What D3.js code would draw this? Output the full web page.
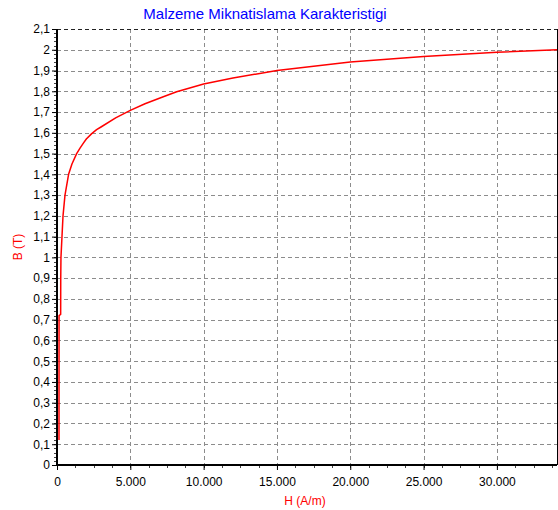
<!DOCTYPE html>
<html>
<head>
<meta charset="utf-8">
<script src="https://cdn.jsdelivr.net/npm/d3@7"></script>
<style>
  html, body { margin: 0; padding: 0; background: #fff; }
  svg { display: block; font-family: "Liberation Sans", Arial, sans-serif; }
</style>
</head>
<body>
<script>
// ---- data ----
const titleText = "Malzeme Miknatislama Karakteristigi";
const xLabel = "H (A/m)";
const yLabel = "B (T)";
const hValues = [136, 140, 250, 255, 270, 340, 410, 545, 790, 1020, 1340, 1570, 1800, 2000, 2350, 2700, 3000, 4000, 5000, 6000, 7250, 8160, 10000, 12000, 15000, 20000, 25000, 30000, 34100];
const bValues = [0.12, 0.72, 0.725, 0.9, 1.0, 1.1, 1.2, 1.3, 1.4, 1.45, 1.5, 1.526, 1.55, 1.57, 1.595, 1.615, 1.628, 1.672, 1.708, 1.74, 1.774, 1.798, 1.835, 1.864, 1.9, 1.941, 1.968, 1.988, 2.0];
const xTicks = [0, 5000, 10000, 15000, 20000, 25000, 30000];
const yTicks = [0, 0.1, 0.2, 0.3, 0.4, 0.5, 0.6, 0.7, 0.8, 0.9, 1, 1.1, 1.2, 1.3, 1.4, 1.5, 1.6, 1.7, 1.8, 1.9, 2, 2.1];
const xDomain = [0, 34100];
const yDomain = [0, 2.1];

const W = 558, H = 510;
const m = { left: 57, right: 1, top: 29, bottom: 45 };

const tr = d3.formatLocale({ decimal: ",", thousands: ".", grouping: [3], currency: ["", " TL"] });
const fx = tr.format(",");
const fy = tr.format(".1~f");

const svg = d3.select("body").append("svg").attr("width", W).attr("height", H);

const x = d3.scaleLinear().domain(xDomain).range([m.left, W - m.right]);
const y = d3.scaleLinear().domain(yDomain).range([H - m.bottom, m.top]);

// grid
const grid = svg.append("g").attr("stroke", "#8c8c8c").attr("stroke-dasharray", "4,3").attr("stroke-width", 1).attr("shape-rendering", "crispEdges");
grid.selectAll(".gy").data(yTicks.filter(d => d > 0 && d < 2.1)).join("line")
  .attr("x1", m.left).attr("x2", W - m.right)
  .attr("y1", d => Math.round(y(d)) + 0.5).attr("y2", d => Math.round(y(d)) + 0.5);
grid.selectAll(".gx").data(xTicks.filter(d => d > 0)).join("line")
  .attr("y1", m.top).attr("y2", H - m.bottom)
  .attr("x1", d => Math.round(x(d)) + 0.5).attr("x2", d => Math.round(x(d)) + 0.5);

// top dashed border
svg.append("line").attr("x1", m.left).attr("x2", W - m.right)
  .attr("y1", Math.round(y(2.1)) + 0.5).attr("y2", Math.round(y(2.1)) + 0.5)
  .attr("stroke", "#222").attr("stroke-dasharray", "4,3").attr("shape-rendering", "crispEdges");
// right solid border
svg.append("line").attr("x1", W - m.right + 0.5).attr("x2", W - m.right + 0.5)
  .attr("y1", m.top).attr("y2", H - m.bottom)
  .attr("stroke", "#000").attr("shape-rendering", "crispEdges");

// minor ticks
const yMinor = d3.range(0, 2.1001, 0.02);
svg.append("g").attr("stroke", "#444").attr("shape-rendering", "crispEdges")
  .selectAll("line").data(yMinor).join("line")
  .attr("x1", m.left - 3).attr("x2", m.left)
  .attr("y1", d => Math.round(y(d)) + 0.5).attr("y2", d => Math.round(y(d)) + 0.5);
const xMinor = d3.range(0, 34001, 1250);
svg.append("g").attr("stroke", "#444").attr("shape-rendering", "crispEdges")
  .selectAll("line").data(xMinor).join("line")
  .attr("y1", H - m.bottom).attr("y2", H - m.bottom + 3)
  .attr("x1", d => Math.round(x(d)) + 0.5).attr("x2", d => Math.round(x(d)) + 0.5);

// axes
const yAxis = svg.append("g").attr("transform", `translate(${m.left},0)`)
  .call(d3.axisLeft(y).tickValues(yTicks).tickFormat(fy).tickSize(5).tickPadding(2));
const xAxis = svg.append("g").attr("transform", `translate(0,${H - m.bottom})`)
  .call(d3.axisBottom(x).tickValues(xTicks).tickFormat(fx).tickSize(5).tickPadding(7));
[xAxis, yAxis].forEach(a => {
  a.select(".domain").remove();
  a.selectAll("text").attr("font-size", 12).attr("fill", "#000").attr("font-family", "Liberation Sans, Arial, sans-serif");
  a.selectAll(".tick line").attr("stroke", "#000");
});

// thick axis lines
svg.append("line").attr("x1", m.left).attr("x2", m.left).attr("y1", m.top).attr("y2", H - m.bottom + 1)
  .attr("stroke", "#000").attr("stroke-width", 2);
svg.append("line").attr("x1", m.left - 1).attr("x2", W - m.right).attr("y1", H - m.bottom).attr("y2", H - m.bottom)
  .attr("stroke", "#000").attr("stroke-width", 2);

// curve
const pts = hValues.map((h, i) => [h, bValues[i]]);
svg.append("path").datum(pts)
  .attr("fill", "none").attr("stroke", "#ff0000").attr("stroke-width", 1.5)
  .attr("stroke-linejoin", "round")
  .attr("d", d3.line().x(d => x(d[0])).y(d => y(d[1])).curve(d3.curveLinear));

// title and labels
svg.append("text").attr("x", 265).attr("y", 19).attr("text-anchor", "middle")
  .attr("font-size", 15).attr("fill", "#0000ff").text(titleText);
svg.append("text").attr("x", 305).attr("y", 505).attr("text-anchor", "middle")
  .attr("font-size", 12).attr("fill", "#ff0000").text(xLabel);
svg.append("text").attr("transform", "translate(22,247) rotate(-90)").attr("text-anchor", "middle")
  .attr("font-size", 12).attr("fill", "#ff0000").text(yLabel);
</script>
</body>
</html>
